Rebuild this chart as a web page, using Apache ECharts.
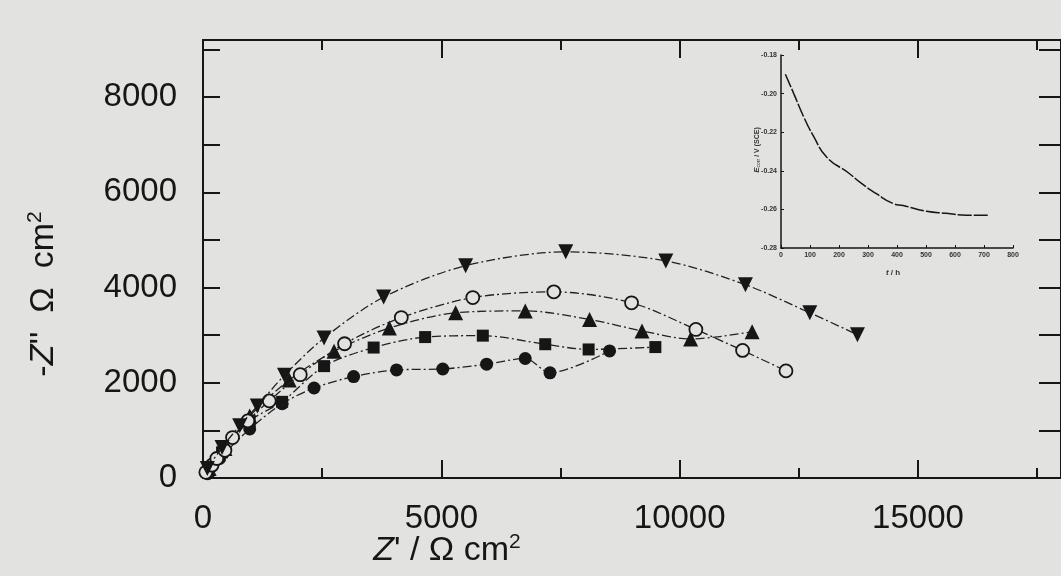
<!DOCTYPE html>
<html>
<head>
<meta charset="utf-8">
<script src="https://cdn.jsdelivr.net/npm/echarts@6/dist/echarts.min.js"></script>
<style>
  html, body { margin: 0; padding: 0; background: #e2e2e0; }
  #chart { width: 1061px; height: 576px; }
</style>
</head>
<body>
<div id="chart"></div>
<script>
// Nyquist data, Z' / Z'' in ohm cm2
const downTriX = [90, 400, 770, 1140, 1710, 2540, 3790, 5510, 7610, 9710, 11380, 12730, 13730];
const downTriY = [200, 640, 1100, 1510, 2160, 2940, 3800, 4460, 4750, 4560, 4060, 3470, 3010];
const openCircX = [60, 190, 290, 460, 620, 940, 1390, 2040, 2970, 4160, 5660, 7360, 8990, 10340, 11320, 12230];
const openCircY = [120, 270, 410, 580, 850, 1200, 1620, 2170, 2820, 3370, 3790, 3910, 3680, 3120, 2680, 2250];
const upTriX = [130, 460, 980, 1810, 2750, 3910, 5300, 6760, 8110, 9210, 10230, 11520];
const upTriY = [200, 620, 1300, 2060, 2660, 3150, 3470, 3510, 3330, 3090, 2920, 3070];
const squareX = [110, 400, 980, 1660, 2540, 3580, 4660, 5870, 7180, 8090, 9490];
const squareY = [110, 540, 1200, 1600, 2350, 2740, 2960, 2990, 2810, 2700, 2750];
const dotX = [100, 350, 980, 1660, 2330, 3160, 4060, 5030, 5950, 6760, 7280, 8530];
const dotY = [90, 410, 1030, 1560, 1890, 2130, 2270, 2290, 2390, 2510, 2210, 2670];

// inset: E_corr vs time
const insetT = [15, 44, 78, 112, 158, 232, 273, 330, 387, 421, 502, 570, 639, 719];
const insetE = [-0.190, -0.200, -0.212, -0.222, -0.233, -0.241, -0.246, -0.252, -0.257, -0.258, -0.261, -0.262, -0.263, -0.263];

const xLabelTicks = [0, 5000, 10000, 15000];
const yLabelTicks = [0, 2000, 4000, 6000, 8000];

const bg = "#e2e2e0";
const ink = "#161616";
const font = "Liberation Sans";

function zip(xs, ys) {
  return xs.map((x, i) => [x, ys[i]]);
}

const chart = echarts.init(document.getElementById("chart"));

const lineStyle = { color: "#222", width: 1.3, type: [9, 3, 2, 3] };

function nyquist(data, symbol, size, opts) {
  return Object.assign({
    type: "line",
    xAxisIndex: 0,
    yAxisIndex: 0,
    data: data,
    symbol: symbol,
    symbolSize: size,
    smooth: 0.3,
    lineStyle: lineStyle,
    itemStyle: { color: ink },
    animation: false,
    z: 3
  }, opts || {});
}

const tickLine = { color: ink, width: 2 };

// mirrored axes (top / right) only carry ticks
function mirrorX(interval, len, showLine) {
  return {
    gridIndex: 0, type: "value", min: 0, max: 18000, interval: interval, position: "top",
    axisLine: { show: showLine, onZero: false, lineStyle: tickLine },
    axisTick: { inside: true, length: len, lineStyle: tickLine },
    splitLine: { show: false }, axisLabel: { show: false }
  };
}

const titleRich = {
  i: { fontFamily: font, fontSize: 34, fontStyle: "italic", fill: ink, lineHeight: 38 },
  s: { fontFamily: font, fontSize: 21, fill: ink, verticalAlign: "top", lineHeight: 38, padding: [0, 0, 16, 0] }
};

const option = {
  backgroundColor: bg,
  animation: false,
  grid: [
    { left: 203, top: 40, width: 863, height: 438 },
    { left: 781, top: 55, width: 232, height: 193 }
  ],
  xAxis: [
    {
      gridIndex: 0, type: "value", min: 0, max: 18000, interval: 5000, position: "bottom",
      axisLine: { onZero: false, lineStyle: tickLine },
      axisTick: { inside: true, length: 18, lineStyle: tickLine },
      splitLine: { show: false },
      axisLabel: {
        fontFamily: font, fontSize: 33, color: ink, margin: 24, showMaxLabel: false,
        formatter: v => (xLabelTicks.indexOf(v) >= 0 ? String(v) : "")
      }
    },
    {
      gridIndex: 0, type: "value", min: 0, max: 18000, interval: 2500, position: "bottom",
      axisLine: { show: false, onZero: false },
      axisTick: { inside: true, length: 10, lineStyle: tickLine },
      splitLine: { show: false }, axisLabel: { show: false }
    },
    mirrorX(5000, 18, true),
    mirrorX(2500, 10, false),
    {
      gridIndex: 1, type: "value", min: 0, max: 800, interval: 100,
      axisLine: { onZero: false, lineStyle: { color: ink, width: 1.5 } },
      axisTick: { inside: true, length: 3, lineStyle: { color: ink, width: 1 } },
      splitLine: { show: false },
      axisLabel: { fontFamily: font, fontSize: 7, color: "#333", margin: 4, fontWeight: "bold" }
    }
  ],
  yAxis: [
    {
      gridIndex: 0, type: "value", min: 0, max: 9200, interval: 1000, position: "left",
      axisLine: { onZero: false, lineStyle: tickLine },
      axisTick: { inside: true, length: 17, lineStyle: tickLine },
      splitLine: { show: false },
      axisLabel: {
        fontFamily: font, fontSize: 33, color: ink, margin: 26, showMaxLabel: false,
        formatter: v => (yLabelTicks.indexOf(v) >= 0 ? String(v) : "")
      }
    },
    {
      gridIndex: 0, type: "value", min: 0, max: 9200, interval: 1000, position: "right",
      axisLine: { onZero: false, lineStyle: tickLine },
      axisTick: { inside: true, length: 22, lineStyle: tickLine },
      splitLine: { show: false }, axisLabel: { show: false }
    },
    {
      gridIndex: 1, type: "value", min: -0.28, max: -0.18, interval: 0.02,
      axisLine: { onZero: false, lineStyle: { color: ink, width: 1.5 } },
      axisTick: { inside: true, length: 3, lineStyle: { color: ink, width: 1 } },
      splitLine: { show: false },
      axisLabel: {
        fontFamily: font, fontSize: 7, color: "#333", margin: 4, fontWeight: "bold",
        formatter: v => v.toFixed(2)
      }
    }
  ],
  series: [
    nyquist(zip(dotX, dotY), "circle", 13),
    nyquist(zip(squareX, squareY), "rect", 12),
    nyquist(zip(upTriX, upTriY), "triangle", 15),
    nyquist(zip(openCircX, openCircY), "circle", 13, {
      itemStyle: { color: bg, borderColor: ink, borderWidth: 1.8 },
      z: 4
    }),
    nyquist(zip(downTriX, downTriY), "triangle", 15, { symbolRotate: 180, z: 5 }),
    {
      type: "line",
      xAxisIndex: 4,
      yAxisIndex: 2,
      data: zip(insetT, insetE),
      symbol: "none",
      smooth: 0.5,
      lineStyle: { color: ink, width: 1.5, type: [14, 2] },
      animation: false
    }
  ],
  graphic: [
    {
      type: "text", x: 447, y: 551,
      style: {
        text: "{i|Z}' / Ω cm{s|2}",
        align: "center", verticalAlign: "middle",
        fill: ink, font: "34px " + font,
        rich: titleRich
      }
    },
    {
      type: "text", x: 44, y: 294, rotation: Math.PI / 2,
      style: {
        text: "-{i|Z}''  Ω  cm{s|2}",
        align: "center", verticalAlign: "middle",
        fill: ink, font: "34px " + font,
        rich: titleRich
      }
    },
    {
      type: "text", x: 893, y: 273,
      style: {
        text: "{i|t} / h", align: "center", verticalAlign: "middle",
        fill: "#333", font: "bold 8px " + font,
        rich: { i: { fontFamily: font, fontSize: 8, fontStyle: "italic", fontWeight: "bold", fill: "#333" } }
      }
    },
    {
      type: "text", x: 757, y: 150, rotation: Math.PI / 2,
      style: {
        text: "{i|E}{b|corr} / V (SCE)", align: "center", verticalAlign: "middle",
        fill: "#333", font: "bold 7px " + font,
        rich: {
          i: { fontFamily: font, fontSize: 8, fontStyle: "italic", fontWeight: "bold", fill: "#333" },
          b: { fontFamily: font, fontSize: 5, fill: "#333", padding: [4, 0, 0, 0] }
        }
      }
    }
  ]
};

chart.setOption(option);
</script>
</body>
</html>
